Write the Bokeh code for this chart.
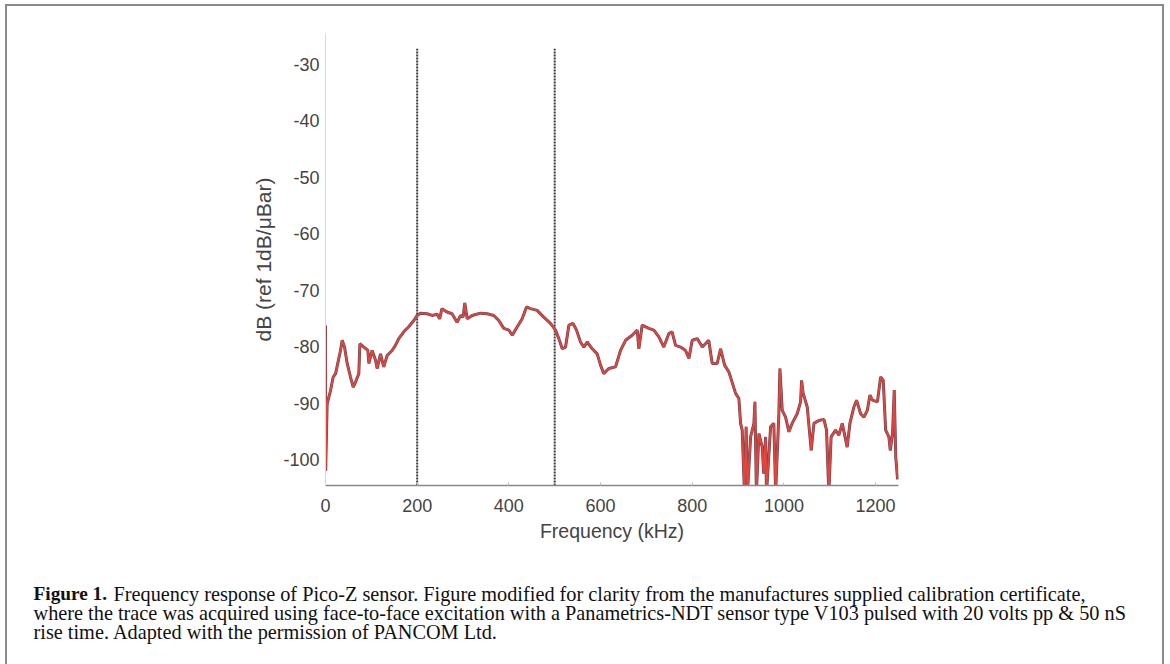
from bokeh.plotting import figure
from bokeh.layouts import column
from bokeh.models import Range1d, FixedTicker, PrintfTickFormatter
from bokeh.core.properties import value
from bokeh.embed import file_html
from bokeh.resources import INLINE

# ---- data ----
freq_khz = [
    0, 0.3, 3.6, 11, 16.7, 22, 32.7, 36.4, 41.5, 47.3,
    54.5, 60.4, 65.5, 72.7, 75, 83.7, 92.4, 94.6, 101.8, 109,
    112.7, 120, 127, 134.5, 145.3, 152.5, 159.8, 170.7, 181.6, 192.7,
    200, 207, 221.6, 232.5, 243.4, 249, 254, 265, 276, 287,
    294.6, 300, 303.9, 309, 320, 338, 352.7, 367, 378, 389,
    400, 407.4, 418.3, 429, 438.4, 447, 461.6, 476, 490.9, 501.8,
    509, 516.4, 523.7, 531, 540, 547.6, 556.3, 563.6, 570.9, 581.8,
    592.7, 600, 607, 618, 632.7, 643.6, 654.6, 669, 680, 683.6,
    690.8, 705.3, 716.3, 727.2, 738, 749, 756, 763.7, 774.6, 785.5,
    792.8, 800, 811, 822, 836, 843.6, 854.5, 861.9, 870.6, 880,
    887, 894.6, 901.8, 905.5, 909, 914, 917.6, 920.5, 927.4, 934.6,
    936.8, 940, 945.5, 952.7, 956, 960, 962, 971, 978, 982,
    989, 991.3, 996.4, 1003.6, 1010.9, 1018, 1029, 1036.4, 1038.6, 1042,
    1050.9, 1059.6, 1065.5, 1076.4, 1087.3, 1093, 1098, 1103, 1112.7, 1120,
    1127.3, 1138, 1144, 1152.7, 1158.5, 1167.4, 1174.6, 1182, 1187.7, 1193,
    1204, 1211, 1216.7, 1222, 1229, 1232, 1237, 1240.7, 1244, 1248,
]
response_db = [
    -76.3, -102, -90.1, -87.8, -85.4, -84.8, -80.7, -78.9, -80.1, -83,
    -85.4, -87.2, -86.3, -84.8, -79.5, -80.1, -80.7, -83, -80.7, -82.4,
    -83.9, -81.3, -83.6, -81.6, -80.7, -79.8, -78.6, -77.4, -76.5, -75.4,
    -74.5, -74.1, -74.2, -74.5, -74.3, -75.1, -73.3, -73.9, -74.2, -75.7,
    -74.5, -74.8, -72.3, -75.1, -74.5, -74.1, -74.2, -74.5, -75.4, -76.8,
    -77.1, -78, -76.5, -75.1, -73, -73.3, -73.6, -74.8, -75.9, -77.1,
    -78.6, -80.4, -80.1, -76.2, -75.9, -77.1, -79.2, -80.1, -79.2, -80.4,
    -81.3, -83.3, -84.8, -83.9, -83.6, -80.7, -78.9, -78, -77.1, -80.4,
    -76.2, -76.8, -77.1, -78.3, -80.1, -77.7, -77.4, -79.8, -80.1, -80.7,
    -82.1, -78.9, -78.6, -80.1, -78.9, -83, -83, -80.4, -83.3, -84.5,
    -86.3, -88.3, -89.2, -93.6, -94.8, -106, -94.2, -106, -96, -93.6,
    -89.8, -106, -95.4, -97.8, -102.5, -96, -106, -94.2, -93.6, -106,
    -91.9, -83.9, -91.3, -92.5, -95.1, -93.6, -91.9, -89.8, -86, -88.3,
    -90.7, -98.4, -93.6, -93.1, -92.9, -94.8, -106, -96, -94.8, -95.7,
    -93.6, -97.8, -93.6, -90.7, -89.5, -91.9, -92.5, -91.3, -88.6, -89.5,
    -89.8, -85.4, -86, -94.8, -96, -98.4, -95.4, -87.7, -99.6, -103.5,
]
marker_freqs = [200, 500]
marker_top_db = -27.3
x_ticks = [0, 200, 400, 600, 800, 1000, 1200]
y_ticks = [-100, -90, -80, -70, -60, -50, -40, -30]
x_title = "Frequency (kHz)"
y_title = "dB (ref 1dB/\u03bcBar)"
caption_bold = "Figure 1."
caption_lines = [
    "Frequency response of Pico-Z sensor. Figure modified for clarity from the manufactures supplied calibration certificate,",
    "where the trace was acquired using face-to-face excitation with a Panametrics-NDT sensor type V103 pulsed with 20 volts pp & 50 nS",
    "rise time. Adapted with the permission of PANCOM Ltd.",
]

X_MIN, X_MAX = 0, 1250
Y_MIN, Y_MAX = -104.6, -24.6

# page content area starts at (7, 6) inside a 2px border
CW = 1155
p = figure(width=CW, height=554, output_backend="svg", toolbar_location=None,
           x_range=Range1d(X_MIN, X_MAX), y_range=Range1d(Y_MIN, Y_MAX),
           min_border_left=318, min_border_right=264,
           min_border_top=27, min_border_bottom=75)
p.frame_align = False
p.outline_line_color = None
p.xgrid.visible = False
p.ygrid.visible = False
p.background_fill_color = "white"
p.border_fill_color = "white"

for ax in (p.xaxis[0], p.yaxis[0]):
    ax.major_label_text_font = "Liberation Sans"
    ax.major_label_text_font_size = "18px"
    ax.major_label_text_color = "#444444"
    ax.axis_label_text_font = "Liberation Sans"
    ax.axis_label_text_font_style = "normal"
    ax.axis_label_text_color = "#444444"
    ax.minor_tick_line_color = None
    ax.formatter = PrintfTickFormatter(format="%d")

p.xaxis.axis_label_text_font_size = "19.5px"
p.yaxis.axis_label_text_font_size = "21px"
p.xaxis.ticker = FixedTicker(ticks=x_ticks)
p.yaxis.ticker = FixedTicker(ticks=y_ticks)
p.xaxis.axis_label = x_title
p.yaxis.axis_label = y_title
p.xaxis.axis_line_color = "#888888"
p.xaxis.axis_line_width = 1.5
p.xaxis.major_tick_line_color = "#bbbbbb"
p.xaxis.major_tick_in = 3
p.xaxis.major_tick_out = 0
p.xaxis.major_label_standoff = 13
p.xaxis.axis_label_standoff = 5
p.yaxis.axis_line_color = "#d8d8d8"
p.yaxis.major_tick_line_color = None
p.yaxis.major_tick_in = 0
p.yaxis.major_tick_out = 0
p.yaxis.major_label_standoff = 6
p.yaxis.axis_label_standoff = 5

# vertical dotted markers
p.segment(x0=marker_freqs, y0=[Y_MIN] * len(marker_freqs),
          x1=marker_freqs, y1=[marker_top_db] * len(marker_freqs),
          line_color="#3a3a3a", line_width=2, line_dash="2 1")

# trace: dark underlay then red line
p.line(freq_khz, response_db, line_color="#5a4a58", line_width=3)
p.line(freq_khz, response_db, line_color="#e2453d", line_width=1.9)

# caption panel (positions in pixels from its top-left)
CH = 104
cap = figure(width=CW, height=CH, output_backend="svg", toolbar_location=None,
             x_range=Range1d(0, CW), y_range=Range1d(CH, 0),
             min_border=0, min_border_left=0, min_border_right=0,
             min_border_top=0, min_border_bottom=0)
cap.frame_align = False
cap.axis.visible = False
cap.grid.visible = False
cap.outline_line_color = None
cap.background_fill_color = "white"
cap.border_fill_color = "white"

cap_font = value("Liberation Serif")
cap_size = value("20.3px")
cap_x = 26
line_y = [33, 52, 71]
cap.text(x=[cap_x], y=[line_y[0]], text=[caption_bold], text_font=cap_font,
         text_font_size=value("19.3px"), text_font_style="bold", text_color="#111111",
         text_baseline="middle")
cap.text(x=[cap_x + 80, cap_x, cap_x], y=line_y, text=caption_lines, text_font=cap_font,
         text_font_size=cap_size, text_color="#111111", text_baseline="middle")

layout = column(p, cap, spacing=0,
                styles={"margin-left": "5px", "margin-top": "4px",
                        "border-left": "2px solid #8a8a8a",
                        "border-right": "2px solid #8a8a8a",
                        "border-top": "2px solid #8a8a8a"})

open("out.html", "w").write(file_html(layout, INLINE))
